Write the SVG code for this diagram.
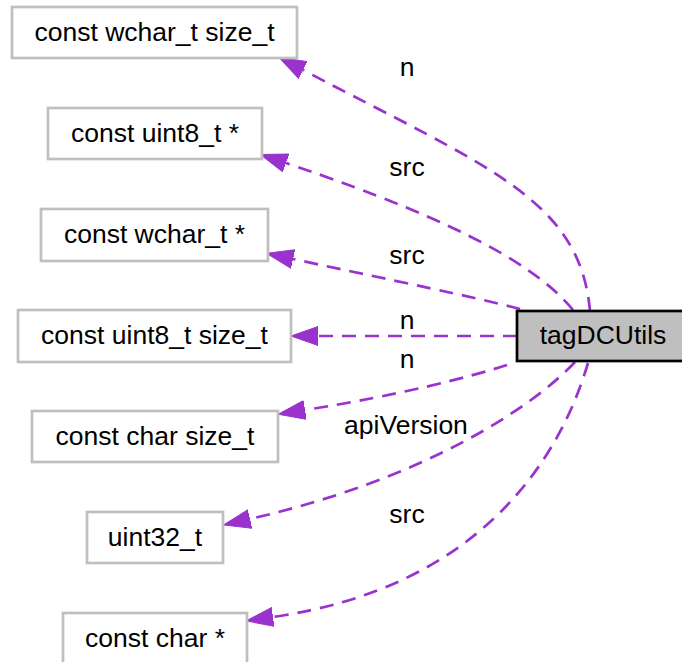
<svg xmlns="http://www.w3.org/2000/svg" width="682" height="662" viewBox="0 0 682 662">
<style>
.node rect{fill:#ffffff;stroke:#bfbfbf;stroke-width:2.7}
.main rect{fill:#bfbfbf;stroke:#000000;stroke-width:2.7}
text{font-family:"Liberation Sans",Arial,sans-serif;font-size:26.5px;fill:#000000;text-anchor:middle}
.edge{fill:none;stroke:#9a32cd;stroke-width:2.7;stroke-dasharray:14,9}
</style>
<defs>
<marker id="arr" markerUnits="userSpaceOnUse" markerWidth="30" markerHeight="22" refX="0" refY="10" orient="auto" viewBox="0 0 30 22">
<path d="M0,0.5 L27,10 L0,19.5 Z" fill="#9a32cd" stroke="#9a32cd" stroke-width="1"/>
</marker>
</defs>
<rect width="682" height="662" fill="#ffffff"/>
<g id="edges">
<path class="edge" d="M590,311 C580,200 490,168 303,70" marker-end="url(#arr)"/>
<path class="edge" d="M573,310 C540,270 470,225 286,163" marker-end="url(#arr)"/>
<path class="edge" d="M520,309 C470,296 400,282 293,259" marker-end="url(#arr)"/>
<path class="edge" d="M517,336 L318,336" marker-end="url(#arr)"/>
<path class="edge" d="M507,365 C470,377 400,395 305,410" marker-end="url(#arr)"/>
<path class="edge" d="M575,362 C530,410 420,480 250,519" marker-end="url(#arr)"/>
<path class="edge" d="M588,363 C558,465 475,588 273,617" marker-end="url(#arr)"/>
<text x="407" y="76">n</text>
<text x="407" y="176">src</text>
<text x="407" y="264">src</text>
<text x="407" y="329">n</text>
<text x="407" y="368">n</text>
<text x="406" y="434">apiVersion</text>
<text x="407" y="523">src</text>
</g>
<g id="main" class="main">
<rect x="517" y="311" width="180" height="50"/>
<text x="603" y="344">tagDCUtils</text>
</g>
<g id="n1" class="node">
<rect x="12" y="7" width="285" height="51"/>
<text x="154.5" y="41">const wchar_t size_t</text>
</g>
<g id="n2" class="node">
<rect x="48" y="108" width="214" height="51"/>
<text x="155" y="142">const uint8_t *</text>
</g>
<g id="n3" class="node">
<rect x="41" y="209" width="227" height="52"/>
<text x="154.5" y="243">const wchar_t *</text>
</g>
<g id="n4" class="node">
<rect x="18" y="310" width="273" height="52"/>
<text x="154.5" y="344">const uint8_t size_t</text>
</g>
<g id="n5" class="node">
<rect x="32" y="411" width="246" height="51"/>
<text x="155" y="445">const char size_t</text>
</g>
<g id="n6" class="node">
<rect x="87" y="512" width="136" height="51"/>
<text x="155" y="546">uint32_t</text>
</g>
<g id="n7" class="node">
<rect x="63" y="613" width="184" height="51"/>
<text x="155" y="647">const char *</text>
</g>
</svg>
